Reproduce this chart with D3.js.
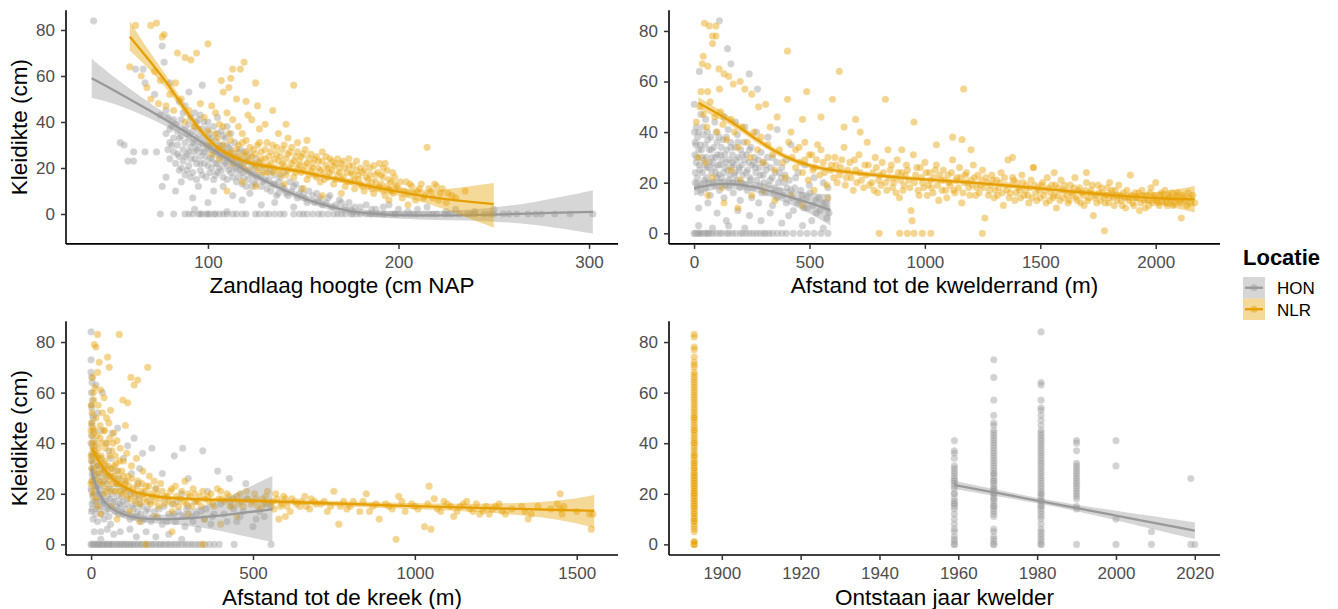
<!DOCTYPE html>
<html><head><meta charset="utf-8">
<script src="https://cdn.jsdelivr.net/npm/d3@7"></script>
<style>body{margin:0;background:#fff}svg{display:block}text{font-family:"Liberation Sans",Arial,sans-serif}</style>
</head><body><svg id="c" width="1338" height="609"></svg>
<script>
// ---------- categories ----------
const locaties = ["HON", "NLR"];
const kleuren = ["#999999", "#E69F00"];
const yTicks = [0, 20, 40, 60, 80];
const xTicksHoogte = [100, 200, 300];
const xTicksRand = [0, 500, 1000, 1500, 2000];
const xTicksKreek = [0, 500, 1000, 1500];
const xTicksJaar = [1900, 1920, 1940, 1960, 1980, 2000, 2020];
const yTitel = "Kleidikte (cm)";
const xTitels = ["Zandlaag hoogte (cm NAP", "Afstand tot de kwelderrand (m)", "Afstand tot de kreek (m)", "Ontstaan jaar kwelder"];

// ---------- panel 1: zandlaag hoogte ----------
const hoogteHON = [[40,84],[76,73],[77,66],[67,57],[72,52],[66,63],[62,63],[80,57],[97,56],[90,53],[85,49],[88,47],[78,45],[93,44],[75,43],[82,41],[95,41],[100,40],[105,42],[110,38],[54,31],[56,30],[61,27],[61,23],[67,27],[73,27],[58,23],[80,37],
[78,35],[79,28],[80,31],[80,24],[81,38],[82,33],[82,27],[83,22],[84,36],[84,30],[85,25],[85,19],[86,41],[86,34],[87,28],[87,23],[88,37],[88,31],[88,17],[89,26],[90,39],[90,33],[90,21],[91,29],[91,24],[92,36],[92,18],[93,31],[93,27],[94,22],[94,40],[95,34],[95,29],[96,25],[96,19],[97,37],[97,31],[98,27],[98,22],[99,16],[100,33],[100,28],[101,24],[101,35],[102,20],[102,30],[103,26],[104,32],[104,17],[105,28],[105,22],[106,25],[107,30],[107,19],[108,34],[108,23],[109,27],[110,21],[110,15],[111,29],[112,24],[112,18],[113,26],[114,20],[115,23],[115,14],[116,27],[117,19],[118,22],[119,16],[120,25],[120,12],[122,18],[123,21],[124,14],[125,17],[127,20],[128,12],[130,15],[132,18],[133,10],[135,13],[137,9],[138,16],[140,11],[142,8],[145,12],[147,7],[150,9],[152,5],[155,8],[158,6],[160,4],[163,7],[165,3],[170,5],[175,2],[180,3],[188,2],[195,4],[210,2],[225,1],
[79,42],[81,30],[83,39],[84,26],[85,33],[86,20],[87,44],[88,25],[89,35],[89,19],[90,27],[91,42],[91,16],[92,31],[93,24],[93,38],[94,28],[94,15],[95,37],[96,22],[96,43],[97,27],[97,17],[98,34],[98,40],[99,25],[99,30],[100,21],[100,37],[101,18],[101,29],[102,33],[102,24],[103,38],[103,15],[104,27],[104,22],[105,35],[105,18],[106,30],[106,20],[107,26],[107,36],[108,16],[108,28],[109,22],[109,33],[110,25],[110,30],[111,19],[111,24],[112,28],[112,35],[113,16],[113,21],[114,25],[114,31],[115,19],[116,22],[116,16],[117,28],[117,24],[118,18],[118,13],[119,22],[119,27],[120,19],[121,15],[121,23],[122,26],[123,12],[123,17],[124,20],[125,24],[125,13],[126,16],[127,22],[128,17],[129,14],[130,20],[131,11],[132,15],[133,19],[134,13],[135,17],[136,8],[137,14],[139,12],[140,18],[141,9],[143,14],[144,10],[146,13],[148,9],[149,11],[151,7],[153,10],[156,5],[157,9],[159,7],[162,5],[164,8],[167,4],[169,6],[172,3],[174,5],[177,3],[183,4],[186,2],[192,3],[200,2],[205,1],[215,3],[230,2],[240,1],[250,2],
[76,12],[78,16],[83,10],[86,14],[92,7],[95,12],[100,5],[103,10],[108,12],[113,8],[118,6],[122,9],[128,4],[135,5],[145,3],[93,2],[110,1],
[75,0],[82,0],[88,0],[92,0],[95,0],[97,0],[99,0],[101,0],[103,0],[106,0],[110,0],[113,0],[118,0],[120,0],[127,0],[130,0],[135,0],[140,0],[145,0],[148,0],[152,0],[155,0],[160,0],[163,0],[166,0],[170,0],[172,0],[175,0],[178,0],[180,0],[183,0],[186,0],[188,0],[190,0],[193,0],[196,0],[198,0],[200,0],[203,0],[206,0],[210,0],[213,0],[216,0],[220,0],[224,0],[228,0],[232,0],[236,0],[240,0],[245,0],[250,0],[255,0],[262,0],[268,0],[275,0],[282,0],[290,0],[302,0],
[90,0],[96,0],[100,0],[104,0],[108,0],[115,0],[125,0],[132,0],[138,0],[150,0],[158,0],[168,0],[176,0],[185,0],[192,0],[198,0],[208,0],[218,0],[226,0],[238,0],[248,0],[258,0],[272,0]];
const hoogteNLR = [[62,82],[70,82],[73,83],[76,77],[77,78],[100,74],[84,70],[88,68],[94,70],[91,67],[59,64],[119,66],[117,63],[113,63],[112,59],[125,57],[145,56],[107,58],[111,55],[108,53],[115,50],[120,49],[126,47],[134,45],[141,39],[127,37],[123,41],[65,60],[68,55],[72,62],[75,58],[80,52],[83,57],[86,50],[90,45],[96,48],[98,42],[102,47],[104,44],[106,39],[110,44],[113,41],[116,38],[118,35],[121,43],[130,39],[137,35],[142,33],[147,31],[152,32],[78,47],[82,45],[88,40],[93,38],[100,36],[105,33],[70,50],[74,48],
[100,30],[102,26],[104,35],[106,24],[108,38],[111,35],
[105,28],[108,30],[110,26],[112,32],[113,22],[115,28],[116,25],[118,31],[119,20],[120,27],[121,24],[122,29],[124,22],[125,26],[126,19],[127,31],[128,24],[129,21],[130,28],[131,18],[132,25],[133,22],[134,30],[135,20],[136,26],[137,23],[138,17],[139,28],[140,21],[141,24],[142,19],[143,27],[144,22],[145,16],[146,25],[147,20],[148,23],[149,18],[150,26],[151,21],[152,15],[153,24],[154,19],[155,22],[156,17],[157,25],[158,20],[159,14],[160,23],[161,18],[162,21],[163,16],[164,24],[165,19],[166,13],[167,22],[168,17],[169,20],[170,15],[171,23],[172,12],[173,18],[174,21],[175,14],[176,17],[177,11],[178,19],[179,15],[180,13],[181,18],[182,10],[183,16],[184,12],[185,20],[186,14],[187,9],[188,17],[189,11],[190,22],[191,13],[192,16],[193,8],[194,12],[195,15],[196,10],[197,18],[198,13],[200,11],[202,7],[204,14],[205,9],[207,12],[209,6],[210,10],[212,13],[214,8],[216,11],[218,7],[220,12],[222,9],[215,29],[228,8],[193,22],[192,20],
[112,27],[114,24],[116,30],[117,21],[119,26],[120,32],[121,19],[123,25],[124,28],[125,21],[126,30],[127,23],[128,27],[129,18],[130,24],[131,31],[132,21],[133,27],[134,18],[135,24],[136,29],[137,19],[138,25],[139,22],[140,30],[141,17],[142,26],[143,20],[144,29],[145,23],[146,18],[147,27],[148,21],[149,25],[150,19],[151,28],[152,22],[153,17],[154,26],[155,20],[156,24],[157,16],[158,23],[159,19],[160,27],[161,15],[162,25],[163,20],[164,18],[165,23],[166,21],[167,15],[168,24],[169,18],[170,22],[171,16],[172,20],[173,14],[174,24],[175,18],[176,21],[177,15],[178,23],[179,17],[180,20],[181,12],[182,19],[183,22],[184,15],[185,17],[186,11],[187,21],[188,14],[189,18],[190,12],[191,17],[192,10],[194,19],[195,11],[196,14],[197,9],[198,16],[199,12],[201,14],[203,10],[206,13],[208,9],[211,11],[213,7],[217,10],[219,13],[221,6],[223,11],[226,9],[230,7],[235,10],
[110,10],[118,14],[125,12],[140,13],[150,11],[160,8],[170,9],[195,6],[205,4],[225,5]];
const smoothHoogteHON = [[39,59,50.5,67.5],[52,53.2,47.8,58.6],[69,45.2,42,48.4],[87,36.5,34.4,38.6],[104,27.1,25.4,28.8],[122,17.7,16.3,19.1],[139,10.4,9,11.8],[157,4.6,3.2,6],[174,1,-0.4,2.4],[192,-0.3,-1.8,1.2],[210,-0.7,-2.4,1],[230,-0.6,-2.7,1.5],[250,-0.3,-3.3,2.7],[270,0.3,-4.2,4.8],[302,0.9,-8.5,10.3]];
const smoothHoogteNLR = [[59,77.1,71,84],[68,68,64,72],[78,57.8,55,60.6],[87,46.5,44.4,48.6],[96,36,34.3,37.7],[104.5,28.8,27.3,30.3],[113,24.9,23.6,26.2],[122,22,20.8,23.2],[131,20.6,19.5,21.7],[140,19.6,18.6,20.6],[148,18.7,17.7,19.7],[165,15.6,14.6,16.6],[183,12.3,11.1,13.5],[200,9.6,8.1,11.1],[220,6.7,3.6,9.8],[250,4.3,-6,13.5]];

// ---------- panel 2: afstand tot de kwelderrand ----------
const randHON = [[110,84],[145,73],[23,64],[160,67],[239,63],[275,57],[1,51],[30,47],[50,45],[90,44],[130,46],[180,44],[220,42],[270,40],[320,38],[360,41],[420,35],[10,42],[15,38],[20,33],[5,36],[40,39],[60,37],[75,33],[100,36],[115,31],[140,38],[160,34],[190,36],[210,31],[240,33],[260,28],[290,32],[310,27],[340,30],[380,26],[400,29],[450,24],[480,27],[520,22],[560,20],[580,18],
[10,28],[25,25],[35,30],[45,27],[55,22],[65,26],[80,28],[95,24],[105,27],[120,22],[135,26],[150,21],[165,28],[175,23],[195,25],[205,20],[225,24],[245,21],[265,26],[285,19],[300,23],[330,21],[350,18],[370,24],[390,20],[420,17],[440,22],[470,15],[500,19],[540,14],[570,12],
[5,20],[15,18],[30,16],[50,18],[70,15],[90,19],[110,17],[130,14],[150,18],[170,16],[200,13],[230,17],[250,14],[280,12],[310,16],[340,11],[360,14],[400,12],[430,9],[460,13],[490,10],[530,8],[575,6],
[20,10],[60,12],[100,8],[140,5],[190,9],[240,7],[290,5],[330,8],[380,4],[410,7],[470,3],[510,5],[560,2],[20,3],[80,2],[150,3],[220,2],
[2,40],[4,31],[6,24],[8,35],[12,30],[14,22],[18,40],[22,27],[26,35],[28,19],[32,33],[36,24],[38,42],[42,29],[46,21],[48,35],[52,30],[56,26],[58,40],[62,20],[66,33],[68,28],[72,38],[76,24],[78,30],[82,20],[86,34],[88,26],[92,30],[96,40],[98,22],[102,31],[106,23],[108,38],[112,27],[116,20],[118,34],[122,29],[126,37],[128,24],[132,31],[136,19],[138,28],[142,33],[146,25],[148,41],[152,29],[156,23],[158,36],[162,26],[166,31],[168,20],[172,27],[176,34],[178,24],[182,29],[186,21],[188,39],[192,30],[196,26],[198,18],[202,33],[206,27],[212,23],[216,36],[218,29],[222,19],[226,31],[232,25],[236,28],[242,22],[246,34],[252,27],[256,18],[262,30],[268,24],[272,21],[278,29],[282,26],[288,23],[294,16],[298,28],[304,20],[312,25],[318,30],[324,19],[332,26],[338,22],[344,16],[352,24],[358,28],[366,20],[372,17],[378,22],[386,15],[394,23],[404,18],[412,21],[424,14],[436,18],[448,12],[462,17],[476,10],[488,14],[502,16],[515,11],[528,13],[545,9],[558,12],[572,10],[585,8],
[0,0],[5,0],[10,0],[15,0],[20,0],[25,0],[30,0],[40,0],[50,0],[55,0],[60,0],[70,0],[80,0],[95,0],[110,0],[120,0],[140,0],[150,0],[165,0],[180,0],[200,0],[210,0],[225,0],[240,0],[255,0],[270,0],[285,0],[300,0],[310,0],[325,0],[340,0],[360,0],[380,0],[400,0],[430,0],[460,0],[490,0],[520,0],[550,0],[580,0]];
const randNLR = [[45,83],[66,82],[95,82],[80,78],[95,78],[80,75],[40,70],[36,67],[60,66],[108,65],[130,63],[150,62],[110,57],[59,56],[30,56],[170,59],[200,60],[220,57],[250,55],[280,50],[310,51],[405,72],[629,64],[488,56],[405,53],[600,53],[829,53],[1168,57],[953,44],[1161,37],[700,45],[550,46],[470,45],[360,46],[330,42],
[10,44],[25,50],[40,47],[55,42],[70,52],[90,46],[100,40],[115,48],[125,43],[140,37],[160,45],[175,40],[190,34],[210,42],[230,36],[245,30],[260,40],[275,33],[290,38],[300,28],[320,35],[340,31],[350,25],[370,33],[385,28],[395,22],[410,36],[425,30],[440,26],[455,34],[470,24],[480,29],[495,21],[510,31],[520,26],[535,35],[545,23],[560,28],[575,19],[590,25],
[20,30],[50,28],[80,22],[120,18],[160,25],[200,21],[250,15],[300,17],[350,13],[420,15],[470,11],[520,17],[580,14],[130,12],[190,10],[60,15],
[610,30],[620,20],[635,26],[650,34],[660,22],[675,28],[690,17],[700,25],[715,31],[725,21],[740,27],[750,36],[760,19],[775,24],[785,30],[795,16],[805,23],[815,28],[830,20],[840,33],[850,25],[860,18],[870,22],[880,29],[890,14],[900,24],[910,19],[920,27],[930,21],[940,9],[945,5],[950,31],[960,23],[970,17],[980,26],[990,20],[1000,28],[1010,15],[1020,24],[1030,18],[1040,22],[1050,27],[1060,13],[1070,21],[1080,25],[1090,17],[1100,23],[1110,19],[1120,29],[1130,16],[1140,22],[1150,26],[1160,12],[1170,20],[1180,24],[1190,18],[1200,21],[1210,27],[1220,15],[1230,23],[1240,19],[1250,25],[1260,6],[1270,20],[1280,17],[1290,23],[1300,14],[1310,21],[1320,18],[1330,24],[1340,11],[1350,19],[1360,29],[1370,16],[1380,22],[1390,13],[1400,20],[1410,17],[1420,23],[1430,15],[1440,19],[1450,12],[1460,21],[1470,26],[1480,16],[1490,18],[1500,14],[1510,20],[1520,17],[1530,22],[1540,13],[1550,19],[1560,15],[1570,10],[1580,18],[1590,21],[1600,14],[1610,17],[1620,12],[1630,19],[1640,15],[1650,22],[1660,13],[1670,18],[1680,16],[1690,11],[1700,20],[1710,14],[1720,17],[1730,7],[1740,15],[1750,19],[1760,13],[1770,16],[1780,12],[1790,18],[1800,14],[1810,17],[1820,11],[1830,15],[1840,19],[1850,13],[1860,16],[1870,10],[1880,14],[1890,23],[1900,12],[1910,16],[1920,14],[1930,9],[1940,17],[1950,13],[1960,15],[1970,11],[1980,18],[1990,14],[2000,20],[2010,12],[2020,15],[2030,13],[2040,17],[2050,11],[2060,14],[2070,16],[2080,12],[2090,15],[2100,13],[2111,6],[2120,14],[2140,16],[2150,12],[2169,12],
[420,40],[440,33],[460,28],[480,36],[500,31],[515,25],[530,29],[550,33],[565,24],[580,30],[595,27],[605,22],[615,27],[630,23],[640,29],[655,19],[665,25],[680,22],[695,29],[705,20],[720,24],[735,18],[745,23],[755,27],[770,20],[780,17],[790,26],[800,21],[810,19],[820,24],[835,17],[845,22],[855,27],[865,20],[875,16],[885,24],[895,21],[905,17],[915,23],[925,25],[935,18],[955,20],[965,26],[975,15],[985,22],[995,18],[1005,24],[1015,19],[1025,21],[1035,16],[1045,25],[1055,19],[1065,23],[1075,17],[1085,21],[1095,14],[1105,20],[1115,24],[1125,17],[1135,21],[1145,18],[1155,22],[1165,16],[1175,23],[1185,20],[1195,15],[1205,19],[1215,22],[1225,18],[1235,16],[1245,21],[1255,18],[1265,22],[1275,15],[1285,19],[1295,21],[1305,17],[1315,15],[1325,20],[1335,16],[1345,22],[1355,17],[1365,14],[1375,19],[1385,21],[1395,16],[1405,18],[1415,14],[1425,20],[1435,17],[1445,15],[1455,18],[1465,14],[1475,19],[1485,13],[1495,17],[1505,19],[1515,15],[1525,12],[1535,18],[1545,16],[1555,14],[1565,19],[1575,15],[1585,13],[1595,17],[1605,19],[1615,15],[1625,13],[1635,16],[1645,18],[1655,14],[1665,17],[1675,12],[1685,15],[1695,17],[1705,13],[1715,16],[1725,19],[1735,14],[1745,12],[1755,16],[1765,18],[1775,14],[1785,15],[1795,12],[1805,16],[1815,14],[1825,17],[1835,13],[1845,15],[1855,11],[1865,14],[1875,17],[1885,13],[1895,15],[1905,11],[1915,14],[1925,16],[1935,12],[1945,15],[1955,10],[1965,13],[1975,16],[1985,12],[1995,15],[2005,13],[2015,11],[2025,16],[2035,14],[2045,12],[2055,15],[2065,13],[2075,11],[2085,14],[2095,16],[2105,12],[2115,15],[2125,13],[2135,11],[2145,14],[2160,15],
[650,42],[720,40],[900,33],[1050,35],[1120,38],[1200,33],[1380,30],[1470,26],[1560,24],[1700,24],[1800,20],
[802,0],[891,0],[924,0],[953,0],[989,0],[1026,0],[1249,0],[1778,1]];
const smoothRandHON = [[0,17.8,14.8,20.8],[80,19.3,17.3,21.3],[155,19.8,18,21.6],[271,18.4,16.5,20.3],[387,15.1,12.6,17.6],[503,11.9,8,15.8],[591,9.2,3,15.4]];
const smoothRandNLR = [[19,51.6,49.4,53.8],[155,44.8,43.2,46.4],[271,36.9,35.6,38.2],[387,30.3,29.2,31.4],[503,26.3,25.3,27.3],[639,24.4,23.5,25.3],[832,22.4,21.6,23.2],[1026,21.1,20.4,21.8],[1220,20,19.3,20.7],[1414,18.4,17.7,19.1],[1607,16.8,16,17.6],[1801,15.1,14.1,16.1],[1995,13.8,12,15.6],[2169,13.4,8.2,18.7]];

// ---------- panel 3: afstand tot de kreek ----------
const kreekHON = [[0,84],[0,73],[2,66],[3,64],[1,60],[4,57],[2,54],[5,51],[3,48],[6,45],[1,43],[8,41],[4,39],[10,37],[2,35],[12,34],[6,32],[15,31],[3,30],[9,29],[18,28],[5,27],[13,26],[22,25],[7,24],[16,23],[26,22],[2,21],[11,20],[20,19],[30,18],[8,17],[17,16],[35,15],[4,14],[25,14],[45,13],[14,12],[32,12],[55,11],[6,10],[40,10],[20,9],[60,8],[28,30],[35,28],[40,25],[45,31],[50,27],[55,22],[60,34],[65,20],[70,26],[75,17],[80,29],[85,23],[90,15],[95,19],[100,12],[105,25],[110,16],[115,21],[120,10],[125,28],[130,14],[135,19],[140,11],[145,24],[150,16],[155,9],[160,20],[170,13],[180,17],[190,11],[200,22],[210,14],[220,8],[230,18],[240,12],[250,16],[260,9],[270,13],[280,20],[290,7],[300,15],[310,11],[320,17],[330,6],[340,13],[350,10],[360,21],[370,8],[380,12],[400,16],[420,9],[440,14],[460,11],[480,18],[500,7],[520,13],[535,11],[555,15],
[0,68],[1,55],[2,47],[0,40],[3,36],[1,33],[4,28],[2,25],[0,22],[5,19],[3,16],[1,13],[7,50],[9,44],[11,39],[6,35],[8,30],[10,26],[12,23],[9,20],[14,17],[16,14],[13,28],[17,35],[19,24],[21,31],[23,20],[25,27],[27,17],[29,23],[31,34],[33,20],[36,25],[38,16],[41,29],[43,21],[46,17],[48,24],[51,19],[53,14],[56,27],[58,18],[61,22],[63,15],[66,30],[68,17],[71,21],[73,13],[77,24],[79,15],[82,19],[84,12],[87,26],[89,16],[92,21],[94,13],[97,17],[102,22],[107,14],[112,18],[117,12],[122,20],[127,15],[132,11],[138,16],[143,13],[148,18],[153,12],[158,15],[165,10],[175,14],[185,9],[195,13],[205,11],[225,15],[235,9],[255,12],[265,17],[285,11],[295,14],[315,9],[325,12],[355,14],[375,11],[410,12],[430,17],[450,9],[470,13],[510,10],[540,16],
[82,46],[113,39],[133,42],[159,36],[188,38],[257,35],[283,38],[345,37],[391,29],[427,26],[478,24],[65,44],[100,34],[150,30],[220,28],[300,26],[30,45],[45,40],[20,52],[35,60],[15,63],[55,37],
[10,5],[30,5],[50,6],[70,4],[90,5],[120,6],[140,3],[170,5],[200,3],[240,4],[280,2],[30,2],
[0,0],[5,0],[10,0],[15,0],[20,0],[25,0],[30,0],[38,0],[45,0],[52,0],[60,0],[68,0],[75,0],[85,0],[95,0],[105,0],[115,0],[125,0],[135,0],[148,0],[160,0],[172,0],[185,0],[200,0],[215,0],[230,0],[245,0],[262,0],[280,0],[300,0],[320,0],[340,0],[365,0],[396,0],[442,0],[556,0],
[2,0],[8,0],[12,0],[18,0],[22,0],[28,0],[34,0],[42,0],[48,0],[56,0],[64,0],[80,0],[90,0],[100,0],[110,0],[120,0],[130,0],[142,0],[154,0],[166,0],[178,0],[192,0],[208,0],[222,0],[238,0],[254,0],[270,0],[290,0],[310,0],[330,0],[352,0],[380,0]];
const kreekNLR = [[20,83],[10,79],[15,78],[87,83],[175,70],[123,66],[144,65],[133,63],[98,57],[113,56],[106,47],[51,74],[56,70],[25,72],[20,68],[5,66],[12,62],[30,61],[40,58],[8,57],[22,55],[35,52],[48,50],[60,53],[15,50],[28,47],[42,45],[55,48],[70,44],[80,41],[6,46],[18,43],[33,40],[45,38],[58,42],[65,37],[75,35],[90,38],[100,33],[110,36],[125,31],[140,34],[160,29],[180,27],[195,25],[3,40],[10,36],[25,34],[38,32],[50,30],[62,28],[72,31],[85,26],[95,29],[105,24],[115,27],[130,22],[145,25],[155,21],[170,23],[185,20],[200,22],[215,24],[230,19],[245,21],[260,23],[275,18],[290,25],[300,20],[315,22],[330,17],[345,21],[360,19],[375,16],[390,22],[405,18],[420,20],[435,15],[450,19],[465,17],[480,21],[495,16],[510,18],[525,14],[540,19],[555,16],[570,20],[585,15],[600,18],[615,13],[630,17],[645,15],[660,19],[675,14],[690,17],[710,16],[730,13],[750,21],[765,8],[770,15],[790,14],[810,17],[830,13],[850,20],[870,15],[890,10],[910,16],[930,14],[942,2],[950,19],[970,13],[990,16],[1010,14],[1030,7],[1044,23],[1050,6],[1060,18],[1080,13],[1100,16],[1120,11],[1140,15],[1160,17],[1180,13],[1200,12],[1220,15],[1240,14],[1260,16],[1280,12],[1300,14],[1340,13],[1350,10],[1380,15],[1420,14],[1449,20],[1460,15],[1500,13],[1545,6],[1550,12],
[1,55],[2,48],[4,43],[6,38],[3,33],[7,29],[9,26],[11,45],[13,40],[16,36],[18,31],[21,28],[23,38],[26,25],[28,42],[31,35],[33,29],[36,24],[39,45],[41,33],[44,27],[47,22],[49,40],[52,31],[54,25],[57,35],[59,21],[63,30],[66,24],[68,40],[71,27],[74,21],[77,32],[79,24],[83,29],[86,21],[89,33],[92,24],[96,20],[99,27],[103,21],[108,25],[112,19],[117,23],[121,18],[126,26],[131,20],[136,17],[141,23],[146,19],[151,16],[157,24],[162,18],[167,21],[173,17],[178,23],[183,16],[190,19],[196,17],[203,20],[208,15],[212,18],[220,21],[226,16],[234,19],[240,17],[249,22],[255,16],[264,19],[270,15],[280,21],[286,17],[295,16],[305,19],[311,15],[320,20],[325,17],[336,19],[340,15],[352,18],[365,17],[370,20],[380,15],[395,18],[400,21],[410,17],[425,19],[430,15],[440,18],[455,16],[460,20],[470,15],[485,18],[500,17],[505,20],[515,15],[530,18],[535,16],[545,21],[560,17],[565,14],[575,18],[590,16],[595,19],[605,15],[620,18],[635,16],[650,17],[665,15],[680,18],[695,16],[720,17],[740,15],[780,17],[800,15],[840,17],[860,13],[880,16],[920,15],[960,17],[1000,15],[1040,16],[1070,14],[1090,17],[1110,15],[1130,13],[1150,16],[1170,14],[1190,16],[1210,13],[1230,12],[1250,15],[1270,13],[1330,15],[1360,12],[1440,16],[1450,14],[1455,12],[1540,12],
[40,20],[60,15],[30,12],[80,10],[120,13],[150,9],[200,11],[250,13],[300,12],[350,10],[400,8],[450,11],[250,5],[170,0],[345,0],[580,10],[600,11],
[0,35],[2,30],[4,25],[8,22],[14,18],[20,15],[5,20],[0,45],[3,52],[7,60],[0,24]];
const smoothKreekHON = [[0,30,26,34],[10,25,22.5,27.5],[25,19.5,17.5,21.5],[50,15,13.3,16.7],[100,11.5,10,13],[150,10.2,8.8,11.6],[200,9.8,8.3,11.3],[300,10.2,7.5,13],[400,11.4,5.5,17.3],[480,12.6,3,22.2],[560,13.9,1,27]];
const smoothKreekNLR = [[2,38,35.5,40.5],[36,29.8,28.2,31.4],[86,23.2,22,24.4],[147,19.9,18.9,20.9],[209,18.6,17.7,19.5],[331,17.7,16.9,18.5],[500,17.3,16.5,18.1],[700,16.4,15.4,17.4],[946,15.3,14.2,16.4],[1192,14.4,13,15.8],[1437,13.6,10.5,16.7],[1554,13.3,6.5,19.5]];

// ---------- panel 4: ontstaan jaar kwelder ----------
const jaarHONjaren = [1959, 1969, 1981, 1990, 2000, 2009, 2019, 2020];
const jaarHONwaarden = [
  [0,0,1,2,3,5,6,8,10,12,14,15,16,16,17,18,20,20,22,23,24,25,25,26,27,28,29,30,31,34,36,37,41],
  [0,0,1,2,3,5,6,11,12,13,14,15,15,16,17,18,18,19,20,20,21,22,22,23,24,25,25,26,27,28,28,29,30,31,32,33,34,35,36,37,38,39,40,41,42,43,44,45,47,48,51,57,66,73],
  [0,0,1,2,3,4,5,6,8,10,11,12,13,14,15,15,16,17,17,18,19,20,20,21,22,23,24,25,26,27,28,29,30,31,32,33,34,35,36,37,38,39,40,41,42,43,44,45,47,49,51,53,54,57,63,64,84],
  [0,14,15,18,19,20,21,22,23,24,25,26,27,28,29,30,31,32,37,40,41],
  [0,10,31,41],
  [0,5],
  [0,26],
  [0]
];
const jaarNLRjaar = 1893;
const jaarNLRwaarden = [0,0,0,1,1,5,6,7,8,9,9,10,10,11,12,12,13,14,14,15,15,16,16,17,17,18,18,19,19,20,20,20,21,21,22,22,23,23,24,24,25,25,26,26,27,27,28,28,29,30,30,31,32,32,33,34,35,35,36,37,38,39,40,40,41,42,43,44,45,45,46,47,48,49,50,50,51,52,53,54,55,56,57,58,59,60,61,62,63,64,65,66,67,68,70,71,72,74,77,78,82,83];
const smoothJaarHON = [[1959,23.5,21.9,25.2],[1970,20.3,19,21.6],[1980,17.3,16.3,18.3],[1990,14.4,13.2,15.6],[2000,11.4,9.5,13.3],[2010,8.4,5.8,11],[2020,5.4,2.1,8.7]];

// ---------- build ----------
const jaarHON = jaarHONjaren.flatMap((j, i) => jaarHONwaarden[i].map(v => [j, v]));
const jaarNLR = jaarNLRwaarden.map(v => [jaarNLRjaar, v]);

const svg = d3.select("#c");
const FONT = '"Liberation Sans",Arial,sans-serif';

const panels = [
  {x0:66, x1:618, y0:10.2, y1:243.9, xd:[25.5,315.2], yd:[-13,88.6], xt:xTicksHoogte, pts:[hoogteHON,hoogteNLR], sm:[smoothHoogteHON,smoothHoogteNLR], title:xTitels[0], ytitle:true},
  {x0:669, x1:1220, y0:10.2, y1:243.9, xd:[-108.5,2278.5], yd:[-4.2,88.2], xt:xTicksRand, pts:[randHON,randNLR], sm:[smoothRandHON,smoothRandNLR], title:xTitels[1], ytitle:false},
  {x0:66, x1:618, y0:321.3, y1:555, xd:[-77.5,1627.5], yd:[-4.2,88.2], xt:xTicksKreek, pts:[kreekHON,kreekNLR], sm:[smoothKreekHON,smoothKreekNLR], title:xTitels[2], ytitle:true},
  {x0:669, x1:1220, y0:321.3, y1:555, xd:[1886.6,2026.4], yd:[-4.2,88.2], xt:xTicksJaar, pts:[jaarHON,jaarNLR], sm:[smoothJaarHON,null], title:xTitels[3], ytitle:false}
];

panels.forEach((p, pi) => {
  const x = d3.scaleLinear().domain(p.xd).range([p.x0, p.x1]);
  const y = d3.scaleLinear().domain(p.yd).range([p.y1, p.y0]);
  const cid = "clip" + pi;
  svg.append("clipPath").attr("id", cid).append("rect")
    .attr("x", p.x0).attr("y", p.y0).attr("width", p.x1 - p.x0).attr("height", p.y1 - p.y0);
  const g = svg.append("g").attr("clip-path", `url(#${cid})`);

  p.pts.forEach((arr, si) => {
    g.append("g").selectAll("circle").data(arr).join("circle")
      .attr("cx", d => x(d[0])).attr("cy", d => y(d[1])).attr("r", 3.6)
      .attr("fill", kleuren[si]).attr("fill-opacity", 0.44)
      .attr("stroke", "#ffffff").attr("stroke-opacity", 0.3).attr("stroke-width", 0.6);
  });

  p.sm.forEach((arr, si) => {
    if (!arr) return;
    const area = d3.area().x(d => x(d[0])).y0(d => y(d[2])).y1(d => y(d[3])).curve(d3.curveBasis);
    const line = d3.line().x(d => x(d[0])).y(d => y(d[1])).curve(d3.curveBasis);
    g.append("path").datum(arr).attr("d", area).attr("fill", kleuren[si]).attr("fill-opacity", 0.4);
    g.append("path").datum(arr).attr("d", line).attr("fill", "none").attr("stroke", kleuren[si]).attr("stroke-width", 2.3);
  });

  const ax = svg.append("g").attr("transform", `translate(0,${p.y1})`)
    .call(d3.axisBottom(x).tickValues(p.xt).tickFormat(d3.format("d")).tickSize(5).tickSizeOuter(0).tickPadding(7));
  const ay = svg.append("g").attr("transform", `translate(${p.x0},0)`)
    .call(d3.axisLeft(y).tickValues(yTicks).tickSize(5).tickSizeOuter(0).tickPadding(6));
  [ax, ay].forEach(a => {
    a.select(".domain").attr("stroke", "#000").attr("stroke-width", 1.6);
    a.selectAll(".tick line").attr("stroke", "#333333").attr("stroke-width", 1.5);
    a.selectAll(".tick text").attr("fill", "#4D4D4D").attr("font-size", 17).attr("font-family", FONT);
  });
  ax.select(".domain").attr("d", `M${p.x0},0H${p.x1}`);
  ay.select(".domain").attr("d", `M0,${p.y1}V${p.y0}`);

  svg.append("text").attr("x", (p.x0 + p.x1) / 2).attr("y", p.y1 + 49.5)
    .attr("text-anchor", "middle").attr("font-size", 22.5).attr("fill", "#000").text(p.title);
  if (p.ytitle) {
    svg.append("text").attr("transform", `translate(27,${(p.y0 + p.y1) / 2}) rotate(-90)`)
      .attr("text-anchor", "middle").attr("font-size", 22.5).attr("fill", "#000").text(yTitel);
  }
});

const lg = svg.append("g");
lg.append("text").attr("x", 1243).attr("y", 265).attr("font-size", 22).attr("font-weight", "bold").attr("fill", "#000").text("Locatie");
locaties.forEach((l, i) => {
  const ky = 277 + i * 21.5;
  lg.append("rect").attr("x", 1243).attr("y", ky).attr("width", 22).attr("height", 21.5).attr("fill", kleuren[i]).attr("fill-opacity", 0.4);
  lg.append("line").attr("x1", 1245).attr("x2", 1263).attr("y1", ky + 10.75).attr("y2", ky + 10.75).attr("stroke", kleuren[i]).attr("stroke-width", 2.3);
  lg.append("circle").attr("cx", 1254).attr("cy", ky + 10.75).attr("r", 3.5).attr("fill", kleuren[i]).attr("fill-opacity", 0.44);
  lg.append("text").attr("x", 1277).attr("y", ky + 17).attr("font-size", 17).attr("fill", "#000").text(l);
});
</script>
</body></html>
